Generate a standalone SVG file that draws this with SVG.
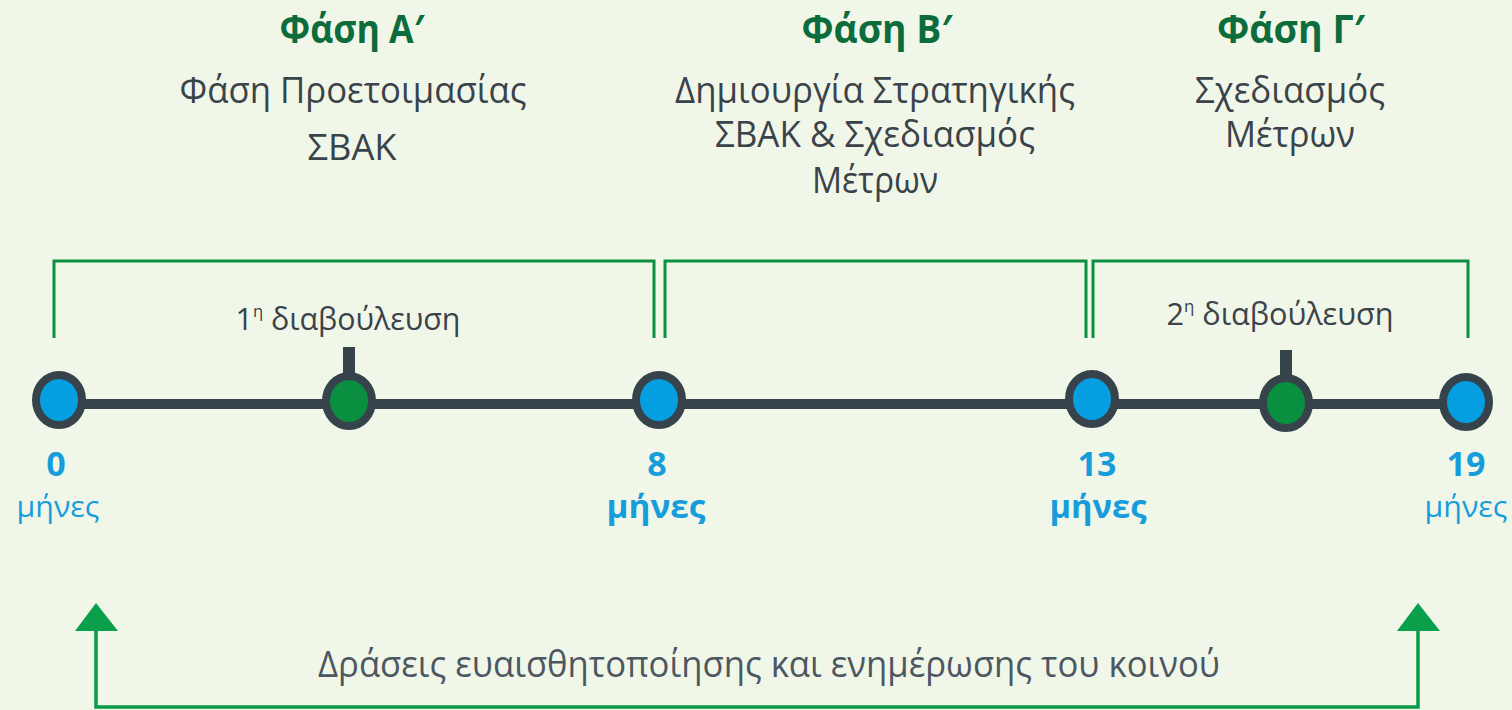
<svg xmlns="http://www.w3.org/2000/svg" width="1512" height="710" viewBox="0 0 1512 710">
<defs>
<style>
.t{font-family:"Open Sans","Noto Sans",sans-serif;font-weight:700;font-size:40px;fill:#0d6c3b;text-anchor:middle}
.s{font-family:"Open Sans","Noto Sans",sans-serif;font-size:36px;fill:#3a434a;text-anchor:middle}
.c{font-family:"Open Sans","Noto Sans",sans-serif;font-size:31px;fill:#3a434a;text-anchor:middle}
.n{font-family:"Open Sans","Noto Sans",sans-serif;font-weight:700;font-size:34px;fill:#179ddc;text-anchor:middle}
.m{font-family:"Open Sans","Noto Sans",sans-serif;font-size:29px;fill:#179ddc;text-anchor:middle}
.mb{font-family:"Open Sans","Noto Sans",sans-serif;font-weight:700;font-size:33px;fill:#179ddc;text-anchor:middle}
.b{font-family:"Open Sans","Noto Sans",sans-serif;font-size:37px;fill:#4c5761;text-anchor:middle}
.br{fill:none;stroke:#0b8f40;stroke-width:3}
.ar{fill:none;stroke:#0a9a47;stroke-width:3.5}
.dot{stroke:#36434b;stroke-width:8}
.blue{fill:#059ee0}
.green{fill:#0a8f40}
</style>
</defs>
<rect width="1512" height="710" fill="#f1f7e8"/>

<g id="phase-a">
<text class="t" x="352" y="43" textLength="145" lengthAdjust="spacingAndGlyphs">Φάση Α′</text>
<text class="s" x="353" y="103" textLength="347" lengthAdjust="spacingAndGlyphs">Φάση Προετοιμασίας</text>
<text class="s" x="352" y="160" textLength="89" lengthAdjust="spacingAndGlyphs">ΣΒΑΚ</text>
</g>
<g id="phase-b">
<text class="t" x="877" y="43" textLength="151" lengthAdjust="spacingAndGlyphs">Φάση Β′</text>
<text class="s" x="875" y="103" textLength="400" lengthAdjust="spacingAndGlyphs">Δημιουργία Στρατηγικής</text>
<text class="s" x="875" y="147" textLength="320" lengthAdjust="spacingAndGlyphs">ΣΒΑΚ &amp; Σχεδιασμός</text>
<text class="s" x="875" y="193" textLength="126" lengthAdjust="spacingAndGlyphs">Μέτρων</text>
</g>
<g id="phase-c">
<text class="t" x="1291" y="43" textLength="148" lengthAdjust="spacingAndGlyphs">Φάση Γ′</text>
<text class="s" x="1290" y="103" textLength="190" lengthAdjust="spacingAndGlyphs">Σχεδιασμός</text>
<text class="s" x="1290" y="147" textLength="130" lengthAdjust="spacingAndGlyphs">Μέτρων</text>
</g>

<g id="brackets">
<polyline class="br" points="54,338 54,261 654,261 654,338"/>
<polyline class="br" points="665,338 665,261 1086,261 1086,338"/>
<polyline class="br" points="1093,338 1093,261 1468,261 1468,338"/>
</g>

<g id="consultation-1">
<text class="c" x="348" y="330" textLength="225" lengthAdjust="spacingAndGlyphs">1<tspan font-size="17" dy="-13">η</tspan><tspan dy="13"> διαβούλευση</tspan></text>
</g>
<g id="consultation-2">
<text class="c" x="1280" y="325" textLength="227" lengthAdjust="spacingAndGlyphs">2<tspan font-size="17" dy="-13">η</tspan><tspan dy="13"> διαβούλευση</tspan></text>
</g>

<g id="connectors">
<line x1="60" y1="404" x2="1466" y2="404" stroke="#36434b" stroke-width="10"/>
<rect x="343" y="347" width="12" height="30" fill="#36434b"/>
<rect x="1280" y="350" width="12" height="30" fill="#36434b"/>
<polyline class="ar" points="96,631 96,707 1418,707 1418,631"/>
<polygon points="96,603 75,631 118,631" fill="#0a9f4a"/>
<polygon points="1418,603 1397,631 1440,631" fill="#0a9f4a"/>
</g>

<g id="m0">
<ellipse class="dot blue" cx="59" cy="400" rx="23" ry="25"/>
<text class="n" x="56" y="476">0</text>
<text class="m" x="58" y="517" textLength="83" lengthAdjust="spacingAndGlyphs">μήνες</text>
</g>
<g id="c1">
<ellipse class="dot green" cx="349" cy="401" rx="23" ry="25"/>
</g>
<g id="m8">
<ellipse class="dot blue" cx="659" cy="400" rx="23" ry="25"/>
<text class="n" x="657" y="476">8</text>
<text class="mb" x="656" y="518" textLength="99" lengthAdjust="spacingAndGlyphs">μήνες</text>
</g>
<g id="m13">
<ellipse class="dot blue" cx="1092" cy="399" rx="23" ry="25"/>
<text class="n" x="1097" y="476">13</text>
<text class="mb" x="1098" y="518" textLength="97" lengthAdjust="spacingAndGlyphs">μήνες</text>
</g>
<g id="c2">
<ellipse class="dot green" cx="1286" cy="403" rx="23" ry="25"/>
</g>
<g id="m19">
<ellipse class="dot blue" cx="1466" cy="402" rx="23" ry="25"/>
<text class="n" x="1466" y="476">19</text>
<text class="m" x="1466" y="517" textLength="83" lengthAdjust="spacingAndGlyphs">μήνες</text>
</g>

<g id="awareness">
<text class="b" x="769" y="677" textLength="902" lengthAdjust="spacingAndGlyphs">Δράσεις ευαισθητοποίησης και ενημέρωσης του κοινού</text>
</g>
</svg>
